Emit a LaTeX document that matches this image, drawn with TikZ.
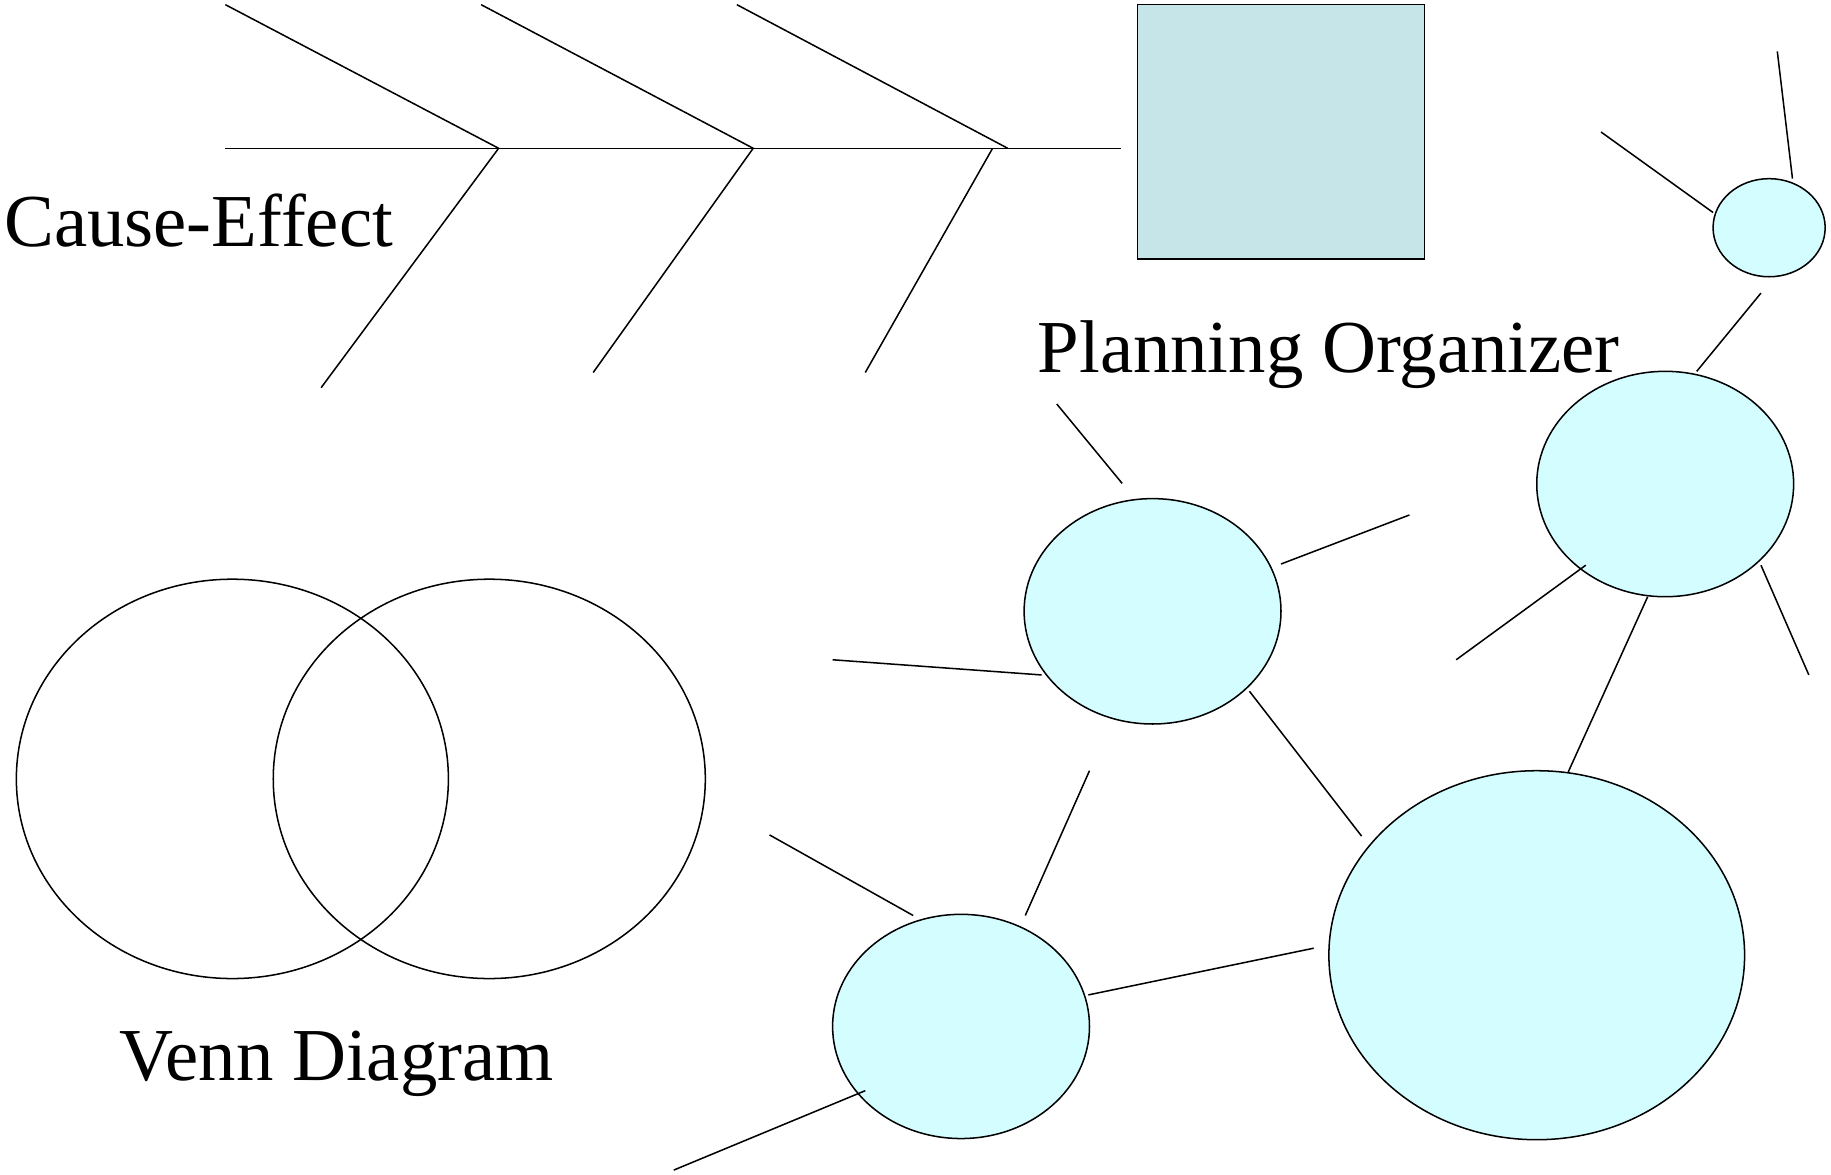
\documentclass[tikz,border=0pt]{standalone}
\usepackage{fontspec}
\setmainfont{Liberation Serif}
\usetikzlibrary{shapes.geometric}
\definecolor{boxfill}{HTML}{C6E5E8}
\definecolor{blobfill}{HTML}{D4FDFF}
\begin{document}
\begin{tikzpicture}[x=0.5pt,y=-0.5pt,line width=0.65pt,
  bone/.style={draw=black},
  blob/.style={ellipse,draw=black,fill=blobfill,inner sep=0pt,outer sep=0pt},
  venn/.style={ellipse,draw=black,inner sep=0pt,outer sep=0pt,minimum width=185pt,minimum height=171pt},
  lbl/.style={anchor=base west,inner sep=0pt,font=\fontsize{32}{38}\selectfont}]
\useasboundingbox (0,0) rectangle (1568,1005.4);
% fishbone
\coordinate (s0) at (193,127);
\coordinate (s1) at (960,127);
\coordinate (j1) at (427,127);
\coordinate (j2) at (645,127);
\coordinate (j3) at (863,127);
\coordinate (k3) at (850,127);
\coordinate (u1) at (193,4);
\coordinate (u2) at (412,4);
\coordinate (u3) at (631,4);
\coordinate (d1) at (275,332);
\coordinate (d2) at (508,319);
\coordinate (d3) at (741,319);
\draw[bone] (s0) -- (s1);
\draw[bone] (u1) -- (j1) -- (d1);
\draw[bone] (u2) -- (j2) -- (d2);
\draw[bone] (u3) -- (j3);
\draw[bone] (k3) -- (d3);
\node[lbl] (ce) at (3,211) {Cause-Effect};
% planning box
\node[draw=black,fill=boxfill,inner sep=0pt,outer sep=0pt,minimum width=123pt,minimum height=109pt] (box) at (1097,113) {};
\node[lbl] (po) at (888,319) {Planning Organizer};
% venn
\node[venn] (vl) at (199,667) {};
\node[venn] (vr) at (419,667) {};
\node[lbl] (vd) at (102,925) {Venn Diagram};
% bubbles
\node[blob,minimum width=48pt,minimum height=42pt] (b1) at (1515,195) {};
\node[blob,minimum width=110pt,minimum height=96.5pt] (b2) at (1426,414.5) {};
\node[blob,minimum width=110pt,minimum height=96.5pt] (b3) at (987,523.5) {};
\node[blob,minimum width=110pt,minimum height=96pt] (b4) at (823,879) {};
\node[blob,minimum width=178pt,minimum height=158pt] (b5) at (1316,818) {};
% spokes
\coordinate (p1a) at (1371,113); \coordinate (p1b) at (1467,182);
\coordinate (p2a) at (1522,44);  \coordinate (p2b) at (1535,153);
\coordinate (p3a) at (1508,251); \coordinate (p3b) at (1453,318);
\coordinate (p4a) at (905,346);  \coordinate (p4b) at (961,414);
\coordinate (p5a) at (1097,483); \coordinate (p5b) at (1207,441);
\coordinate (p6a) at (713,565);  \coordinate (p6b) at (892,578);
\coordinate (p7a) at (1070,592); \coordinate (p7b) at (1166,716);
\coordinate (p8a) at (1411,511); \coordinate (p8b) at (1343,661);
\coordinate (p9a) at (1358,484); \coordinate (p9b) at (1247,565);
\coordinate (p10a) at (1508,484); \coordinate (p10b) at (1549,578);
\coordinate (p11a) at (933,660); \coordinate (p11b) at (878,784);
\coordinate (p12a) at (659,715); \coordinate (p12b) at (782,784);
\coordinate (p13a) at (932,852); \coordinate (p13b) at (1125,812);
\coordinate (p14a) at (741,934); \coordinate (p14b) at (577,1002);
\foreach \i in {1,...,14} {\draw[bone] (p\i a) -- (p\i b);}
\end{tikzpicture}
\end{document}
